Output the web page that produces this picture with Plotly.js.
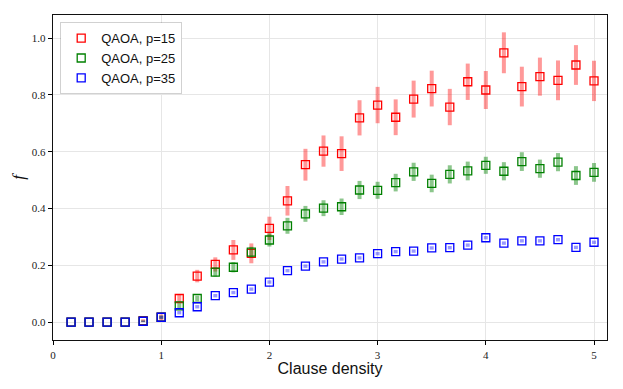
<!DOCTYPE html>
<html>
<head>
<meta charset="utf-8">
<script src="https://cdn.plot.ly/plotly-3.0.1.min.js"></script>
<style>
  html, body { margin:0; padding:0; background:#fff; }
  #grafica { width:623px; height:389px; }
</style>
</head>
<body>
<div id="grafica"></div>
<script>

// clause density (x)
const densidad = [0.167, 0.333, 0.5, 0.667, 0.833, 1.0, 1.167, 1.333, 1.5, 1.667,
                  1.833, 2.0, 2.167, 2.333, 2.5, 2.667, 2.833, 3.0, 3.167, 3.333,
                  3.5, 3.667, 3.833, 4.0, 4.167, 4.333, 4.5, 4.667, 4.833, 5.0];

// QAOA p=15
const p15 = [0, 0, 0, 0, 0.005, 0.017, 0.083, 0.162, 0.203, 0.254,
             0.242, 0.330, 0.427, 0.554, 0.602, 0.593, 0.719, 0.764, 0.721, 0.785,
             0.822, 0.757, 0.846, 0.817, 0.948, 0.829, 0.864, 0.851, 0.905, 0.849];
const p15Err = [0, 0, 0, 0, 0.005, 0.01, 0.013, 0.022, 0.025, 0.035,
                0.035, 0.041, 0.052, 0.056, 0.055, 0.061, 0.062, 0.064, 0.063, 0.065,
                0.063, 0.064, 0.064, 0.067, 0.072, 0.070, 0.067, 0.070, 0.070, 0.071];

// QAOA p=25
const p25 = [0, 0, 0, 0, 0.003, 0.017, 0.057, 0.083, 0.176, 0.193,
             0.246, 0.289, 0.339, 0.381, 0.401, 0.406, 0.465, 0.464, 0.491, 0.529,
             0.488, 0.520, 0.532, 0.552, 0.531, 0.565, 0.540, 0.563, 0.516, 0.527];
const p25Err = [0, 0, 0, 0, 0.003, 0.006, 0.01, 0.01, 0.016, 0.018,
                0.019, 0.023, 0.028, 0.028, 0.028, 0.029, 0.032, 0.030, 0.031, 0.032,
                0.031, 0.032, 0.033, 0.030, 0.032, 0.033, 0.032, 0.032, 0.033, 0.033];

// QAOA p=35
const p35 = [0, 0, 0, 0, 0.003, 0.017, 0.033, 0.054, 0.093, 0.104,
             0.116, 0.141, 0.181, 0.197, 0.212, 0.222, 0.226, 0.241, 0.248, 0.250,
             0.261, 0.262, 0.271, 0.297, 0.278, 0.286, 0.286, 0.290, 0.263, 0.281];
const p35Err = [0, 0, 0, 0, 0.002, 0.005, 0.006, 0.006, 0.006, 0.006,
                0.006, 0.006, 0.006, 0.006, 0.006, 0.006, 0.006, 0.006, 0.006, 0.006,
                0.006, 0.006, 0.006, 0.006, 0.006, 0.006, 0.006, 0.006, 0.006, 0.006];

const nombres = ['QAOA, p=15', 'QAOA, p=25', 'QAOA, p=35'];
const colores = ['#ff0000', '#008000', '#0000ff'];
const coloresError = ['rgba(255,0,0,0.4)', 'rgba(0,128,0,0.45)', 'rgba(0,0,255,0.4)'];

function serie(y, err, i){
    return {
        x: densidad,
        y: y,
        name: nombres[i],
        type: 'scatter',
        mode: 'markers',
        marker: {
            symbol: 'square-open',
            size: 8,
            color: colores[i],
            line: { width: 1.3, color: colores[i] }
        },
        error_y: {
            type: 'data',
            array: err,
            visible: true,
            color: coloresError[i],
            thickness: 4,
            width: 0
        }
    };
}

const datos = [
    serie(p15, p15Err, 0),
    serie(p25, p25Err, 1),
    serie(p35, p35Err, 2)
];

const ejeFuente = { family: 'Liberation Serif, serif', size: 11, color: '#222' };

const layout = {
    width: 623,
    height: 389,
    margin: { l: 53, r: 16, t: 15, b: 49 },
    paper_bgcolor: '#fff',
    plot_bgcolor: '#fff',
    showlegend: true,
    legend: {
        x: 0.013,
        y: 0.978,
        xanchor: 'left',
        yanchor: 'top',
        bgcolor: '#fff',
        bordercolor: 'rgba(0,0,0,0.18)',
        borderwidth: 1,
        font: { family: 'Liberation Sans, Arial, sans-serif', size: 13, color: '#111' }
    },
    xaxis: {
        range: [0, 5.12],
        tickvals: [0, 1, 2, 3, 4, 5],
        ticktext: ['0', '1', '2', '3', '4', '5'],
        ticks: 'outside',
        ticklen: 4,
        tickcolor: '#000',
        showgrid: true,
        gridcolor: '#e6e6e6',
        gridwidth: 1,
        zeroline: false,
        showline: true,
        linecolor: '#111',
        linewidth: 1.3,
        mirror: true,
        tickfont: ejeFuente,
        title: {
            text: 'Clause density',
            font: { family: 'Liberation Sans, Arial, sans-serif', size: 16, color: '#111' },
            standoff: 3
        }
    },
    yaxis: {
        range: [-0.063, 1.081],
        tickvals: [0, 0.2, 0.4, 0.6, 0.8, 1.0],
        ticktext: ['0.0', '0.2', '0.4', '0.6', '0.8', '1.0'],
        ticks: 'outside',
        ticklen: 4,
        tickcolor: '#000',
        showgrid: true,
        gridcolor: '#e6e6e6',
        gridwidth: 1,
        zeroline: false,
        showline: true,
        linecolor: '#111',
        linewidth: 1.3,
        mirror: true,
        tickfont: ejeFuente,
        title: {
            text: '<i>f</i>',
            font: { family: 'Liberation Serif, serif', size: 17, color: '#111' },
            standoff: 2
        }
    }
};

Plotly.newPlot('grafica', datos, layout, { displayModeBar: false, staticPlot: true });

</script>
</body>
</html>
